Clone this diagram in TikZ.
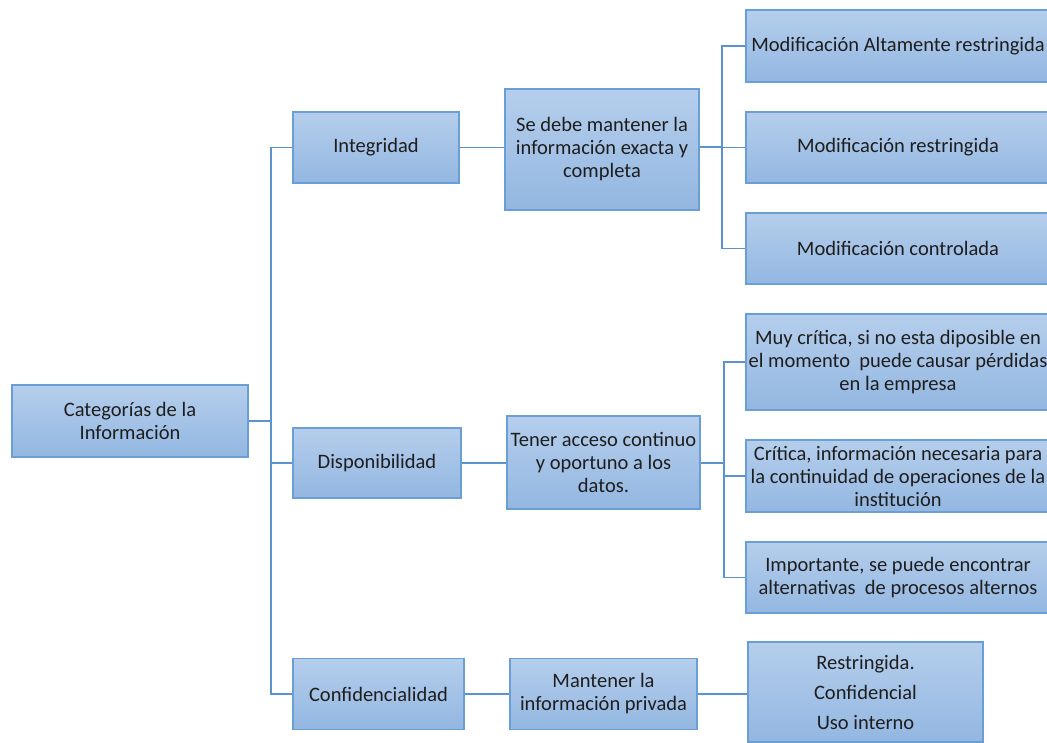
\documentclass[tikz,border=0pt]{standalone}
\usepackage{fontspec}
\setmainfont{Carlito}
\definecolor{boxtop}{HTML}{B5CEEC}
\definecolor{boxbot}{HTML}{93B7E1}
\definecolor{boxline}{HTML}{6A9FD6}
\definecolor{wire}{HTML}{5B93CF}
\definecolor{ink}{HTML}{1E1E1E}
\begin{document}
\begin{tikzpicture}[x=1pt,y=-1pt,
  box/.style={draw=boxline,line width=1.4pt,top color=boxtop,bottom color=boxbot,
    inner sep=0pt,align=center,text=ink,font=\fontsize{20.5}{23}\selectfont},
  wire/.style={draw=wire,line width=1.4pt}]
\useasboundingbox (0,0) rectangle (1047,742);
% level 0
\node[box,minimum width=236,minimum height=72] (root) at (130,421) {Categorías de la\\Información};
% level 1
\node[box,minimum width=166,minimum height=71] (integ) at (376,147.5) {Integridad};
\node[box,minimum width=168,minimum height=70] (disp) at (377,463) {Disponibilidad};
\node[box,minimum width=171,minimum height=71] (conf) at (378.5,694) {Confidencialidad};
% level 2
\node[box,minimum width=194,minimum height=121] (sedebe) at (602,149.5) {Se debe mantener la\\información exacta y\\completa};
\node[box,minimum width=193,minimum height=93] (tener) at (603.5,462.5) {Tener acceso continuo\\y oportuno a los\\datos.};
\node[box,minimum width=187,minimum height=71] (mant) at (603.5,694) {Mantener la\\información privada};
% level 3
\node[box,minimum width=304,minimum height=72] (m1) at (898,46) {Modificación Altamente restringida};
\node[box,minimum width=304,minimum height=71] (m2) at (898,147.5) {Modificación restringida};
\node[box,minimum width=304,minimum height=71] (m3) at (898,248.5) {Modificación controlada};
\node[box,minimum width=304,minimum height=96] (c1) at (898,362) {Muy crítica, si no esta diposible en\\el momento\ \ puede causar pérdidas\\en la empresa};
\node[box,minimum width=304,minimum height=72] (c2) at (898,476) {Crítica, información necesaria para\\la continuidad de operaciones de la\\institución};
\node[box,minimum width=304,minimum height=71] (c3) at (898,577.5) {Importante, se puede encontrar\\alternativas\ \ de procesos alternos};
\node[box,minimum width=235,minimum height=100] (restr) at (865.5,692) {Restringida.\\[7pt]Confidencial\\[7pt]Uso interno};
% junction points
\coordinate (j0) at (271,421);
\coordinate (j1) at (722,147);
\coordinate (j2) at (724,463);
% connectors
\draw[wire] (root.east) -- (j0);
\draw[wire] (j0) |- (integ.west);
\draw[wire] (j0) |- (disp.west);
\draw[wire] (j0) |- (conf.west);
\draw[wire] (integ.east) -- (sedebe.west |- integ.east);
\draw[wire] (disp.east) -- (tener.west |- disp.east);
\draw[wire] (conf.east) -- (mant.west);
\draw[wire] (sedebe.east |- j1) -- (j1);
\draw[wire] (j1) |- (m1.west);
\draw[wire] (j1) |- (m2.west);
\draw[wire] (j1) |- (m3.west);
\draw[wire] (tener.east |- j2) -- (j2);
\draw[wire] (j2) |- (c1.west);
\draw[wire] (j2) |- (c2.west);
\draw[wire] (j2) |- (c3.west);
\draw[wire] (mant.east) -- (restr.west |- mant.east);
\end{tikzpicture}
\end{document}
